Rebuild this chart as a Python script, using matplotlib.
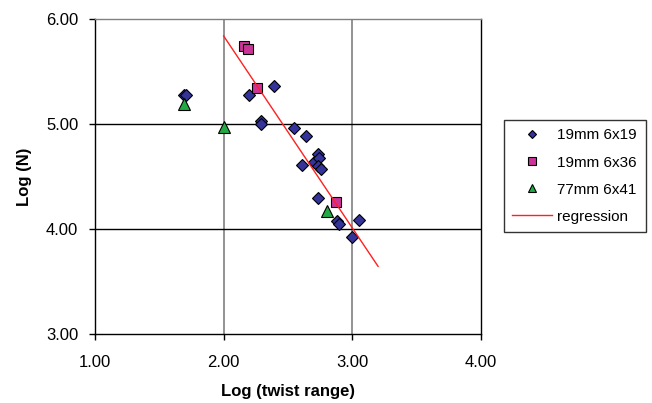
import matplotlib
matplotlib.use('Agg')
import numpy as np
import matplotlib.pyplot as plt

plt.rcParams['font.family'] = ['Liberation Sans', 'DejaVu Sans']

# data (log10 values)
x_6x19 = [1.69, 1.71, 2.20, 2.29, 2.29, 2.39, 2.55, 2.64, 2.61, 2.70, 2.73,
          2.74, 2.73, 2.76, 2.73, 2.88, 2.90, 3.05, 3.00]
y_6x19 = [5.28, 5.28, 5.28, 5.03, 5.00, 5.36, 4.96, 4.89, 4.61, 4.64, 4.71,
          4.68, 4.60, 4.57, 4.30, 4.08, 4.05, 4.09, 3.92]
x_6x36 = [2.16, 2.19, 2.26, 2.87]
y_6x36 = [5.74, 5.71, 5.34, 4.26]
x_6x41 = [1.69, 2.00, 2.80]
y_6x41 = [5.19, 4.97, 4.17]
reg_intercept = 9.494
reg_slope = -1.828
reg_xrange = [2.0, 3.2]

fig = plt.figure(figsize=(6.52, 4.03), dpi=100)
ax = fig.add_axes([95 / 652, 1 - 334 / 403, 386 / 652, 315 / 403])

ax.plot(x_6x19, y_6x19, 'D', ms=5.8, mfc='#333399', mec='black', mew=0.8,
        ls='none', label='19mm 6x19', zorder=3)
ax.plot(x_6x36, y_6x36, 's', ms=7.2, mfc='#CC3399', mec='black', mew=0.8,
        ls='none', label='19mm 6x36', zorder=3)
ax.plot(x_6x41, y_6x41, '^', ms=8.5, mfc='#22AA44', mec='black', mew=0.8,
        ls='none', label='77mm 6x41', zorder=3)
rx = np.array(reg_xrange)
ax.plot(rx, reg_intercept + reg_slope * rx, color='#FF2020', lw=1,
        label='regression', zorder=4)

ax.set_xlim(1, 4)
ax.set_ylim(3, 6)
ax.set_xticks([1, 2, 3, 4])
ax.set_yticks([3, 4, 5, 6])
ax.set_xticklabels(['1.00', '2.00', '3.00', '4.00'])
ax.set_yticklabels(['3.00', '4.00', '5.00', '6.00'])
ax.tick_params(direction='out', length=4, width=1, labelsize=12, pad=8)
ax.tick_params(axis='x', pad=11)
for x in [2, 3]:
    ax.axvline(x, color='#808080', lw=1.2, zorder=1)
for y in [4, 5]:
    ax.axhline(y, color='black', lw=1, zorder=1)
for s in ax.spines.values():
    s.set_linewidth(1)
ax.spines['top'].set_color('#808080')
ax.spines['right'].set_color('black')

ax.set_xlabel('Log (twist range)', fontsize=12, fontweight='bold', labelpad=10)
ax.set_ylabel('Log (N)', fontsize=12, fontweight='bold', labelpad=10)

leg = ax.legend(loc='upper left', bbox_to_anchor=(504 / 652, 1 - 120 / 403),
                bbox_transform=fig.transFigure, fontsize=11, frameon=True,
                fancybox=False, edgecolor='black', markerscale=0.75,
                handlelength=2.6, handletextpad=0.35, labelspacing=0.86,
                borderpad=0.55, borderaxespad=0)
leg.get_frame().set_linewidth(1)

fig.savefig('out.png', dpi=100)
